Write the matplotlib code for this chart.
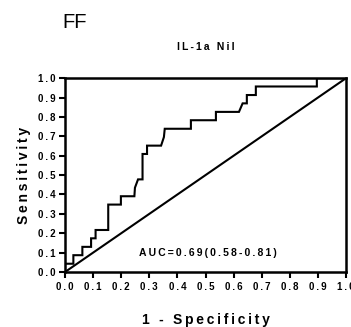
import matplotlib
matplotlib.use("Agg")
import matplotlib.pyplot as plt

plt.rcParams['font.family'] = ['Liberation Sans', 'DejaVu Sans']

# ROC curve points (1 - specificity, sensitivity)
fpr = [0, 0, 0.030, 0.030, 0.062, 0.062, 0.093, 0.093, 0.109, 0.109, 0.154, 0.154,
       0.199, 0.199, 0.247, 0.249, 0.260, 0.276, 0.276, 0.292, 0.292, 0.342, 0.352,
       0.355, 0.448, 0.448, 0.537, 0.537, 0.619, 0.632, 0.647, 0.647, 0.679, 0.679,
       0.896, 0.896, 1.0]
tpr = [0, 0.043, 0.043, 0.087, 0.087, 0.130, 0.130, 0.174, 0.174, 0.217, 0.217, 0.348,
       0.348, 0.391, 0.391, 0.435, 0.478, 0.478, 0.609, 0.609, 0.652, 0.652, 0.696,
       0.739, 0.739, 0.783, 0.783, 0.826, 0.826, 0.870, 0.870, 0.913, 0.913, 0.957,
       0.957, 1.0, 1.0]
ticks = [round(i * 0.1, 1) for i in range(11)]
tick_labels = ['%.1f' % t for t in ticks]
auc_text = 'AUC=0.69(0.58-0.81)'


def spaced(s):
    # prism-style letter spacing
    return '\u2009'.join(s)


fig = plt.figure(figsize=(3.51, 3.27), dpi=100)
ax = fig.add_axes([0.185, 0.168, 0.801, 0.593])

ax.plot(fpr, tpr, color='black', lw=1.5, solid_joinstyle='miter')
ax.plot([0, 1], [0, 1], color='black', lw=1.5)

ax.set_xlim(0, 1)
ax.set_ylim(0, 1)
ax.set_xticks(ticks)
ax.set_yticks(ticks)
ax.set_xticklabels([spaced(t) for t in tick_labels], fontsize=7, fontweight='bold')
ax.set_yticklabels([spaced(t) for t in tick_labels], fontsize=7, fontweight='bold')
ax.tick_params(direction='out', length=4, width=1.5, pad=3)
for s in ax.spines.values():
    s.set_linewidth(1.8)

ax.text(0.51, 0.1, spaced(auc_text), fontsize=7.5, fontweight='bold', ha='center', va='center')

ax.set_xlabel(spaced('1 - Specificity'), fontsize=10, fontweight='bold', labelpad=15)
ax.set_ylabel(spaced('Sensitivity'), fontsize=10, fontweight='bold', labelpad=5)
ax.set_title(spaced('IL-1a Nil'), fontsize=7.5, fontweight='bold', pad=20)

fig.text(0.177, 0.93, 'FF', fontsize=14.5, ha='left', va='center')

fig.savefig('out.png', dpi=100)
